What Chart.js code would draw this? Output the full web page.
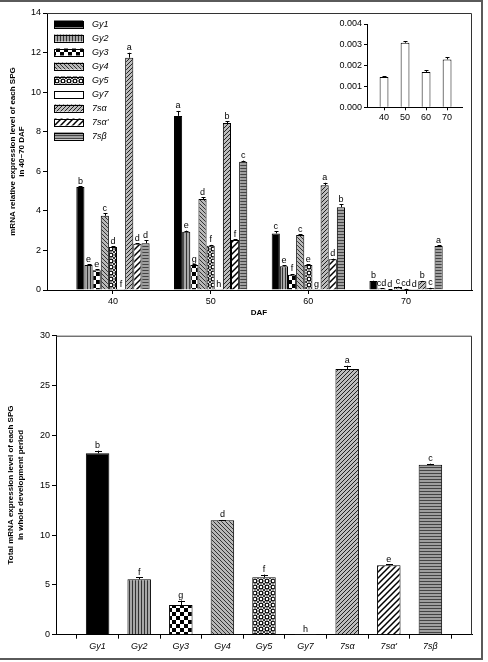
<!DOCTYPE html>
<html>
<head>
<meta charset="utf-8">
<script src="https://cdn.jsdelivr.net/npm/chart.js@4"></script>
<style>
  html, body { margin: 0; padding: 0; background: #fff; }
  #fig { position: relative; width: 488px; height: 662px; overflow: hidden; }
  #fig canvas { position: absolute; }
  #frame { position: absolute; left: -4px; top: 0; width: 487px; height: 660px; box-sizing: border-box; border: 2px solid #5a5a5a; }
</style>
</head>
<body>
<div id="fig">
  <canvas id="top" width="488" height="320" style="left:0;top:0"></canvas>
  <canvas id="inset" width="142" height="122" style="left:330px;top:10px"></canvas>
  <canvas id="bottom" width="488" height="342" style="left:0;top:320px"></canvas>
  <div id="frame"></div>
</div>
<script>
// ── Data ────────────────────────────────────────────────────────────────────
const daf = [40, 50, 60, 70];
const genes = ['Gy1', 'Gy2', 'Gy3', 'Gy4', 'Gy5', 'Gy7', '7sα', "7sα'", '7sβ'];

// relative expression at 40/50/60/70 DAF
const relGy1 = [5.2, 8.8, 2.86, 0.45];
const relGy2 = [1.26, 2.95, 1.2, 0.07];
const relGy3 = [1.0, 1.26, 0.77, 0.02];
const relGy4 = [3.75, 4.6, 2.78, 0.15];
const relGy5 = [2.17, 2.24, 1.26, 0.05];
const relGy7 = [0.00145, 0.0031, 0.0017, 0.0023];
const rel7sa = [11.74, 8.44, 5.3, 0.44];
const rel7sa2 = [2.34, 2.53, 1.55, 0.1];
const rel7sb = [2.36, 6.48, 4.18, 2.22];
const relSeries = [relGy1, relGy2, relGy3, relGy4, relGy5, relGy7, rel7sa, rel7sa2, rel7sb];

const errGy1 = [0.05, 0.25, 0.1, 0.02];
const errGy2 = [0.05, 0.05, 0.04, 0.01];
const errGy3 = [0.04, 0.04, 0.04, 0.01];
const errGy4 = [0.13, 0.1, 0.04, 0.02];
const errGy5 = [0.03, 0.04, 0.04, 0.01];
const errGy7 = [0, 0, 0, 0];
const err7sa = [0.25, 0.08, 0.12, 0.02];
const err7sa2 = [0.03, 0.04, 0.03, 0.01];
const err7sb = [0.15, 0.06, 0.15, 0.04];
const relErrors = [errGy1, errGy2, errGy3, errGy4, errGy5, errGy7, err7sa, err7sa2, err7sb];

const relLetters = [
  ['b', 'a', 'c', 'b'],
  ['e', 'e', 'e', 'cd'],
  ['e', 'g', 'f', 'd'],
  ['c', 'd', 'c', 'c'],
  ['d', 'f', 'e', 'cd'],
  ['f', 'h', 'g', 'd'],
  ['a', 'b', 'a', 'b'],
  ['d', 'f', 'd', 'c'],
  ['d', 'c', 'b', 'a']
];

// inset: Gy7 alone
const insetErrors = [0.00003, 0.00007, 0.00007, 0.0001];
const insetTicks = [0, 0.001, 0.002, 0.003, 0.004];

// total expression over the whole period
const totals = [18.2, 5.56, 2.98, 11.48, 5.76, 0.0077, 26.66, 6.96, 17.06];
const totalErrors = [0.27, 0.2, 0.45, 0.03, 0.27, 0, 0.33, 0.1, 0.1];
const totalLetters = ['b', 'f', 'g', 'd', 'f', 'h', 'a', 'e', 'c'];

// ── Patterns ────────────────────────────────────────────────────────────────
function tile(w, h, draw) {
  const c = document.createElement('canvas');
  c.width = w; c.height = h;
  const g = c.getContext('2d');
  draw(g, w, h);
  return g.createPattern(c, 'repeat');
}

const pats = [
  '#000',
  tile(3, 1, g => { g.fillStyle = '#a8a8a8'; g.fillRect(0, 0, 3, 1); g.fillStyle = '#333'; g.fillRect(0, 0, 1, 1); }),
  tile(8, 8, g => { g.fillStyle = '#fff'; g.fillRect(0, 0, 8, 8); g.fillStyle = '#000'; g.fillRect(0, 0, 4, 4); g.fillRect(4, 4, 4, 4); }),
  tile(4, 4, g => { g.fillStyle = '#b8b8b8'; g.fillRect(0, 0, 4, 4); g.fillStyle = '#333'; for (let i = 0; i < 4; i++) g.fillRect(i, i, 1, 1); }),
  tile(6, 6, g => {
    g.fillStyle = '#fff'; g.fillRect(0, 0, 6, 6);
    g.strokeStyle = '#000'; g.lineWidth = 1.3;
    g.beginPath(); g.arc(3, 3, 1.9, 0, Math.PI * 2); g.stroke();
    g.fillStyle = '#000';
    [[0, 0], [6, 0], [0, 6], [6, 6]].forEach(([x, y]) => { g.beginPath(); g.arc(x, y, 1.1, 0, Math.PI * 2); g.fill(); });
  }),
  '#fff',
  tile(4, 4, g => { g.fillStyle = '#bdbdbd'; g.fillRect(0, 0, 4, 4); g.fillStyle = '#222'; for (let i = 0; i < 4; i++) g.fillRect(3 - i, i, 1, 1); }),
  tile(6, 6, g => {
    g.fillStyle = '#fff'; g.fillRect(0, 0, 6, 6);
    g.strokeStyle = '#000'; g.lineWidth = 1.5;
    g.beginPath();
    g.moveTo(-1, 7); g.lineTo(7, -1);
    g.moveTo(-4, 4); g.lineTo(4, -4);
    g.moveTo(2, 10); g.lineTo(10, 2);
    g.stroke();
  }),
  tile(1, 3, g => { g.fillStyle = '#a0a0a0'; g.fillRect(0, 0, 1, 3); g.fillStyle = '#444'; g.fillRect(0, 0, 1, 1); })
];

// ── Helpers / plugins ───────────────────────────────────────────────────────
const FONT = "'Liberation Sans', Arial, sans-serif";
Chart.defaults.font.family = FONT;
Chart.defaults.color = '#000';

function yVal(d) { return d && typeof d === 'object' ? d.y : d; }

const errLetters = {
  id: 'errLetters',
  afterDatasetsDraw(chart, args, opts) {
    const ctx = chart.ctx, ys = chart.scales.y;
    ctx.save();
    ctx.strokeStyle = '#000'; ctx.fillStyle = '#000'; ctx.lineWidth = 1;
    ctx.font = opts.font; ctx.textAlign = 'center'; ctx.textBaseline = 'alphabetic';
    chart.data.datasets.forEach((ds, di) => {
      chart.getDatasetMeta(di).data.forEach((bar, j) => {
        const v = yVal(ds.data[j]);
        if (v == null) return;
        const e = (opts.errors[di] || [])[j] || 0;
        const x = Math.round(bar.x) + 0.5;
        const top = ys.getPixelForValue(v + e);
        if (e > 0) {
          ctx.beginPath();
          ctx.moveTo(x, ys.getPixelForValue(v)); ctx.lineTo(x, top);
          ctx.moveTo(x - opts.cap / 2, Math.round(top) + 0.5); ctx.lineTo(x + opts.cap / 2, Math.round(top) + 0.5);
          ctx.stroke();
        }
        const lab = opts.letters && (opts.letters[di] || [])[j];
        if (lab) ctx.fillText(lab, bar.x, top - opts.gap);
      });
    });
    ctx.restore();
  }
};

const titles = {
  id: 'titles',
  afterDraw(chart, args, opts) {
    const ctx = chart.ctx, a = chart.chartArea;
    ctx.save();
    if (opts.frame) {
      ctx.strokeStyle = '#333'; ctx.lineWidth = 1;
      ctx.beginPath();
      ctx.moveTo(a.left, a.top + 0.5); ctx.lineTo(a.right - 0.5, a.top + 0.5); ctx.lineTo(a.right - 0.5, a.bottom);
      ctx.stroke();
    }
    ctx.fillStyle = '#000';
    ctx.font = 'bold 8px ' + FONT;
    ctx.textAlign = 'center'; ctx.textBaseline = 'middle';
    (opts.yLines || []).forEach((t, i) => {
      ctx.save();
      ctx.translate(opts.yX[i], opts.yC);
      ctx.rotate(-Math.PI / 2);
      ctx.fillText(t, 0, 0);
      ctx.restore();
    });
    if (opts.xTitle) ctx.fillText(opts.xTitle, opts.xTitleX, opts.xTitleY);
    if (opts.legend) {
      const L = opts.legend;
      ctx.font = 'italic 9px ' + FONT;
      ctx.textAlign = 'left';
      genes.forEach((g, i) => {
        const cy = L.y0 + i * L.dy;
        ctx.fillStyle = pats[i];
        ctx.fillRect(L.x, cy - L.h / 2, L.w, L.h);
        ctx.strokeStyle = '#000'; ctx.lineWidth = 1;
        ctx.strokeRect(L.x + 0.5, Math.round(cy - L.h / 2) + 0.5, L.w, L.h);
        ctx.fillStyle = '#000';
        ctx.fillText(g, L.tx, cy + 0.5);
      });
    }
    ctx.restore();
  }
};

const axisGrid = { drawOnChartArea: false, drawTicks: true, tickLength: 4, color: '#000' };
const axisBorder = { display: true, color: '#000', width: 1 };
const tickFont = { size: 9, family: FONT };

// ── Top chart: expression at each DAF ───────────────────────────────────────
new Chart(document.getElementById('top'), {
  type: 'bar',
  data: {
    datasets: genes.map((g, i) => ({
      label: g,
      data: daf.map((d, j) => ({ x: d, y: relSeries[i][j] })),
      backgroundColor: pats[i],
      borderColor: '#000',
      borderWidth: 1,
      categoryPercentage: 0.75,
      barPercentage: 1
    }))
  },
  options: {
    responsive: false, animation: false, devicePixelRatio: 1,
    layout: { padding: { left: 0, top: 13, right: 16, bottom: 0 } },
    plugins: {
      legend: { display: false }, tooltip: { enabled: false },
      errLetters: { errors: relErrors, letters: relLetters, cap: 4, gap: 2.5, font: '9px ' + FONT },
      titles: {
        frame: true,
        yLines: ['mRNA relative expression level of each SPG', 'in 40~70 DAF'],
        yX: [13, 22], yC: 151.5,
        xTitle: 'DAF', xTitleX: 259, xTitleY: 313,
        legend: { x: 54, w: 29, h: 7, y0: 24, dy: 14, tx: 92 }
      }
    },
    scales: {
      x: {
        type: 'linear', min: 33.25, max: 76.75, offset: false,
        afterBuildTicks: s => { s.ticks = daf.map(v => ({ value: v })); },
        afterFit: s => { s.height = 30; },
        grid: { ...axisGrid, offset: false }, border: axisBorder,
        ticks: { font: tickFont, padding: 2, maxRotation: 0, autoSkip: false }
      },
      y: {
        min: 0, max: 14,
        afterFit: s => { s.width = 47; },
        grid: axisGrid, border: axisBorder,
        ticks: { stepSize: 2, font: tickFont, padding: 2 }
      }
    }
  },
  plugins: [errLetters, titles]
});

// ── Inset: Gy7 ──────────────────────────────────────────────────────────────
new Chart(document.getElementById('inset'), {
  type: 'bar',
  data: {
    datasets: [{
      label: 'Gy7',
      data: daf.map((d, j) => ({ x: d, y: relGy7[j] })),
      backgroundColor: '#fff', borderColor: '#000', borderWidth: 1,
      categoryPercentage: 1, barPercentage: 0.42
    }]
  },
  options: {
    responsive: false, animation: false, devicePixelRatio: 1,
    layout: { padding: { left: 0, top: 14, right: 10, bottom: 0 } },
    plugins: {
      legend: { display: false }, tooltip: { enabled: false },
      errLetters: { errors: [insetErrors], letters: null, cap: 4, gap: 2, font: '9px ' + FONT }
    },
    scales: {
      x: {
        type: 'linear', min: 31.9, max: 77.1, offset: false,
        afterBuildTicks: s => { s.ticks = daf.map(v => ({ value: v })); },
        afterFit: s => { s.height = 24.7; },
        grid: { ...axisGrid, tickLength: 3, offset: false }, border: axisBorder,
        ticks: { font: tickFont, padding: 2, maxRotation: 0, autoSkip: false }
      },
      y: {
        min: 0, max: 0.004,
        afterBuildTicks: s => { s.ticks = insetTicks.map(v => ({ value: v })); },
        afterFit: s => { s.width = 37; },
        grid: { ...axisGrid, tickLength: 3 }, border: axisBorder,
        ticks: { font: tickFont, padding: 2, callback: v => v.toFixed(3) }
      }
    }
  },
  plugins: [errLetters]
});

// ── Bottom chart: total expression ──────────────────────────────────────────
new Chart(document.getElementById('bottom'), {
  type: 'bar',
  data: {
    labels: ['', ...genes, ''],
    datasets: [{
      label: 'Total',
      data: [null, ...totals, null],
      backgroundColor: [null, ...pats, null],
      borderColor: '#000', borderWidth: 1,
      categoryPercentage: 1, barPercentage: 0.565
    }]
  },
  options: {
    responsive: false, animation: false, devicePixelRatio: 1,
    layout: { padding: { left: 0, top: 15.7, right: 16, bottom: 0 } },
    plugins: {
      legend: { display: false }, tooltip: { enabled: false },
      errLetters: { errors: [[0, ...totalErrors, 0]], letters: [['', ...totalLetters, '']], cap: 7, gap: 2.5, font: '9px ' + FONT },
      titles: {
        frame: true,
        yLines: ['Total mRNA expression level of each SPG', 'in whole development period'],
        yX: [11, 21], yC: 165
      }
    },
    scales: {
      x: {
        type: 'category', offset: false,
        afterFit: s => { s.height = 27.3; },
        grid: axisGrid, border: axisBorder,
        ticks: { font: { ...tickFont, style: 'italic' }, padding: 2, maxRotation: 0, autoSkip: false }
      },
      y: {
        min: 0, max: 30,
        afterFit: s => { s.width = 56; },
        grid: axisGrid, border: axisBorder,
        ticks: { stepSize: 5, font: tickFont, padding: 2 }
      }
    }
  },
  plugins: [errLetters, titles]
});
</script>
</body>
</html>
